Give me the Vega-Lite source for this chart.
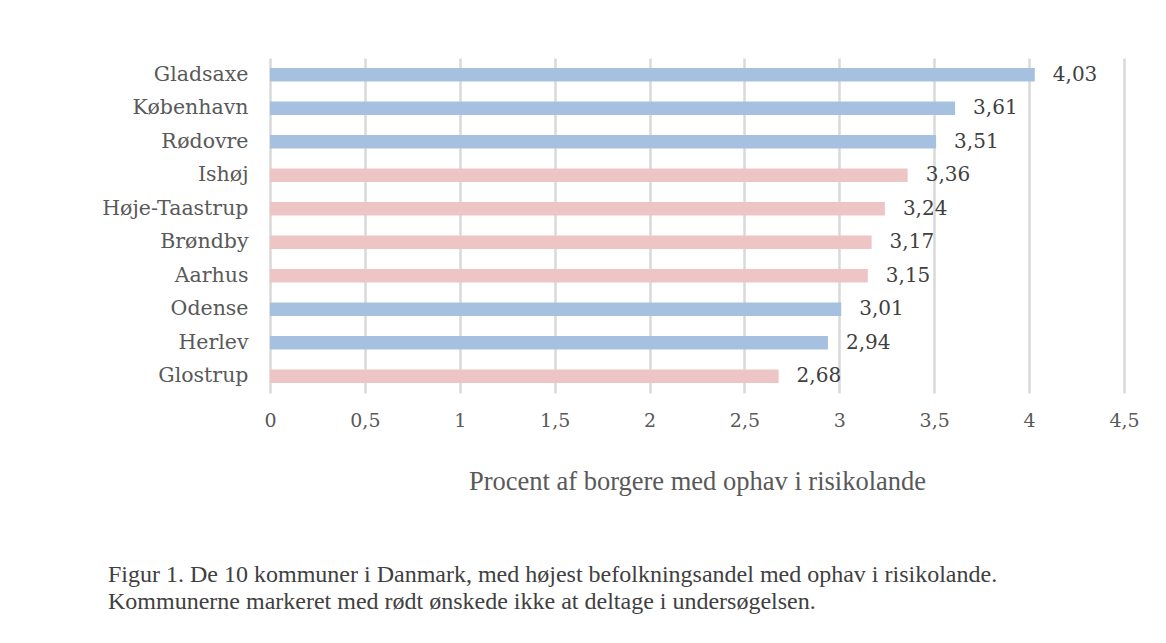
{
  "$schema": "https://vega.github.io/schema/vega-lite/v6.json",
  "width": 854,
  "height": 335,
  "padding": {"top": 58, "left": 100, "right": 42, "bottom": 10},
  "background": "white",
  "data": {
    "values": [
      {"kommune": "Gladsaxe", "procent": 4.03, "deltog": "ja"},
      {"kommune": "København", "procent": 3.61, "deltog": "ja"},
      {"kommune": "Rødovre", "procent": 3.51, "deltog": "ja"},
      {"kommune": "Ishøj", "procent": 3.36, "deltog": "nej"},
      {"kommune": "Høje-Taastrup", "procent": 3.24, "deltog": "nej"},
      {"kommune": "Brøndby", "procent": 3.17, "deltog": "nej"},
      {"kommune": "Aarhus", "procent": 3.15, "deltog": "nej"},
      {"kommune": "Odense", "procent": 3.01, "deltog": "ja"},
      {"kommune": "Herlev", "procent": 2.94, "deltog": "ja"},
      {"kommune": "Glostrup", "procent": 2.68, "deltog": "nej"}
    ]
  },
  "title": {
    "text": ["Figur 1. De 10 kommuner i Danmark, med højest befolkningsandel med ophav i risikolande.", "Kommunerne markeret med rødt ønskede ikke at deltage i undersøgelsen."],
    "orient": "bottom",
    "anchor": "start",
    "frame": "bounds",
    "dx": 8,
    "font": "Liberation Serif",
    "fontSize": 24,
    "fontWeight": "normal",
    "color": "#404040",
    "lineHeight": 27,
    "offset": 68
  },
  "encoding": {
    "y": {
      "field": "kommune",
      "type": "nominal",
      "sort": null,
      "scale": {"paddingInner": 0.6, "paddingOuter": 0.3},
      "axis": {
        "title": null,
        "domain": false,
        "ticks": false,
        "labelPadding": 22,
        "labelFont": "DejaVu Serif",
        "labelFontSize": 20.5,
        "labelColor": "#595959",
        "minExtent": 170,
        "maxExtent": 170
      }
    },
    "x": {
      "field": "procent",
      "type": "quantitative",
      "scale": {"domain": [0, 4.5], "nice": false},
      "axis": {
        "values": [0, 0.5, 1, 1.5, 2, 2.5, 3, 3.5, 4, 4.5],
        "format": "~g",
        "title": "Procent af borgere med ophav i risikolande",
        "titleFont": "Liberation Serif",
        "titleFontSize": 26.5,
        "titleFontWeight": "normal",
        "titleColor": "#595959",
        "titlePadding": 38,
        "domain": false,
        "ticks": false,
        "grid": true,
        "gridColor": "#d9d9d9",
        "gridWidth": 2.5,
        "labelPadding": 18,
        "labelFont": "DejaVu Serif",
        "labelFontSize": 19,
        "labelColor": "#595959",
        "labelFlush": false
      }
    }
  },
  "layer": [
    {
      "mark": {"type": "bar"},
      "encoding": {
        "color": {
          "field": "deltog",
          "type": "nominal",
          "scale": {"domain": ["ja", "nej"], "range": ["#a6c1e0", "#edc5c5"]},
          "legend": null
        }
      }
    },
    {
      "mark": {"type": "text", "align": "left", "baseline": "middle", "dx": 18, "font": "DejaVu Serif", "fontSize": 20, "color": "#404040"},
      "encoding": {
        "text": {"field": "procent", "type": "quantitative", "format": ".2f"}
      }
    }
  ],
  "config": {
    "view": {"stroke": null},
    "locale": {
      "number": {"decimal": ",", "thousands": ".", "grouping": [3], "currency": ["", " kr."]}
    }
  }
}
